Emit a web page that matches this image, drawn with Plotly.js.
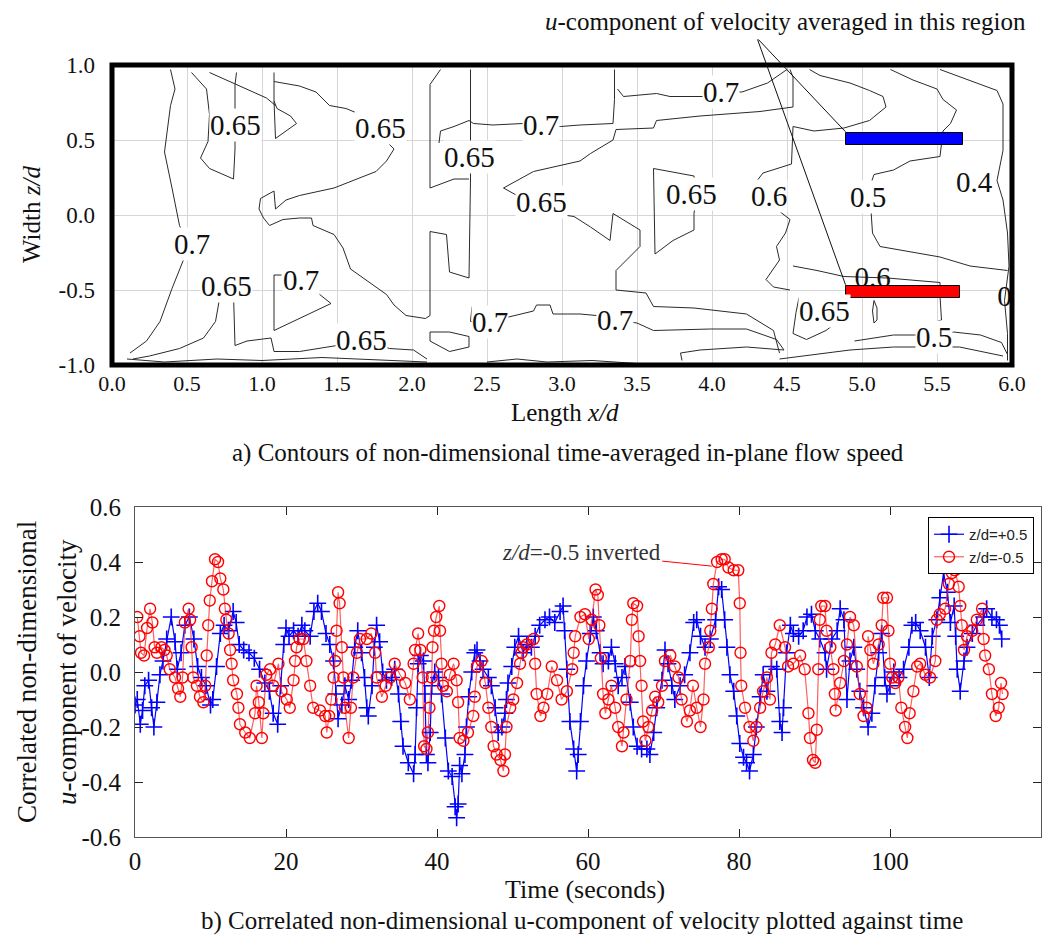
<!DOCTYPE html>
<html><head><meta charset="utf-8">
<script src="https://cdn.plot.ly/plotly-3.0.1.min.js"></script>
<style>body{margin:0;background:#fff}</style>
</head><body><div id="chart" style="width:1053px;height:943px"></div>
<script>
// ---------- (a) contour lines: x/d and z/d coordinates ----------
const contourX = [
 [0.39,0.42,0.39,0.35,0.40,0.45,0.49,0.48,0.40,0.32,0.23,0.12],
 [0.53,0.63,0.65,0.64,0.59,0.65,0.81,0.82,0.82,0.83],
 [0.65,0.85,1.03,1.09],
 [1.08,1.08,1.09,1.16,1.23,1.19,1.10,1.08],
 [1.08,1.25,1.36,1.45,1.56,1.68,1.79,1.83,1.88,1.83,1.76,1.63,1.48,1.25,1.16,1.09,1.08,0.99,0.98,1.01,1.05,1.14,1.25,1.33,1.34,1.48,1.54,1.59,1.70,1.83,1.88,1.96,2.09,2.12,2.12,2.23,2.25,2.38,2.39,2.39],
 [2.19,2.12,2.12,2.28,2.38],
 [2.18,2.19,2.28,2.38,2.41,2.54,2.74,2.86,2.99,3.12,3.34,3.35,3.35],
 [3.37,3.41,3.63,3.72,3.94,4.06,4.20,4.37,4.50],
 [4.52,4.54,4.54,4.32,3.92,3.63,3.61,3.36,3.34,3.19,3.12,2.81,2.61,2.70,2.86,3.01,3.08,3.19,3.32,3.34,3.52,3.52,3.41,3.36,3.36,3.56,3.61,3.88,4.23,4.41,4.45],
 [3.61,3.88,3.90,3.88,3.88,3.74,3.62,3.61],
 [4.65,4.72,4.92,5.05,5.14,5.16,5.05,4.88,4.68,4.54,4.53,4.34,4.27],
 [4.43,4.52,4.49,4.43,4.45,4.36,4.41,4.52],
 [5.19,5.34,5.50,5.54,5.63,5.59,5.54,5.53,5.52,5.32,5.21,5.08,5.05,5.06,5.07,5.12,5.52,5.72,5.97],
 [5.52,5.76,5.90,5.94,5.94,5.90,5.94,5.97,5.98,5.95,5.97,5.97],
 [4.54,4.70,4.88,5.17,5.52,5.52,5.53,5.43],
 [4.58,4.56,4.54,4.63,4.76,4.85],
 [5.08,5.10,5.10,5.08,5.07,5.08],
 [4.95,5.21,5.35,5.48,5.61,5.79,5.93,5.97],
 [4.45,4.92,5.21,5.65,5.94],
 [0.72,0.69,0.61,0.45,0.25,0.14],
 [0.81,0.82,0.90,1.06,1.08,1.25,1.50,1.66,1.85,2.01,2.10],
 [1.13,1.08,1.08,1.46,1.36,1.26],
 [2.40,2.39,2.52,2.68,2.81,2.83,2.92,2.94,3.12,3.23,3.36,3.50,3.61,3.99,4.23,4.43,4.48,4.23,3.92,3.79,3.80],
 [2.12,2.25,2.38,2.38,2.25,2.12,2.12],
 [0.10,0.35,0.70,1.00,1.40,1.80,2.10],
 [2.50,2.70,2.90,3.20,3.50]
];
const contourZ = [
 [0.97,0.84,0.73,0.42,0.18,-0.07,-0.16,-0.29,-0.49,-0.71,-0.84,-0.92],
 [0.95,0.84,0.67,0.49,0.38,0.31,0.24,0.44,0.87,0.95],
 [0.95,0.86,0.78,0.73],
 [0.95,0.76,0.51,0.56,0.61,0.66,0.71,0.76],
 [0.89,0.86,0.82,0.73,0.71,0.66,0.58,0.49,0.44,0.36,0.29,0.24,0.18,0.13,0.10,0.04,0.16,0.11,0.04,-0.02,-0.07,-0.03,-0.02,-0.02,-0.07,-0.13,-0.22,-0.36,-0.44,-0.53,-0.60,-0.67,-0.69,-0.67,-0.11,-0.13,-0.38,-0.42,0.24,0.97],
 [0.97,0.87,0.18,0.24,0.24],
 [0.48,0.56,0.59,0.63,0.61,0.60,0.61,0.60,0.59,0.60,0.61,0.77,0.97],
 [0.84,0.79,0.81,0.79,0.79,0.82,0.82,0.88,0.97],
 [0.97,0.92,0.72,0.69,0.66,0.63,0.58,0.57,0.50,0.41,0.36,0.29,0.18,0.13,0.09,0.00,-0.01,-0.08,-0.17,0.01,-0.10,-0.21,-0.32,-0.37,-0.50,-0.52,-0.61,-0.62,-0.66,-0.77,-0.92],
 [0.31,0.26,0.14,0.01,-0.10,-0.17,-0.26,0.31],
 [0.97,0.93,0.88,0.83,0.79,0.72,0.63,0.58,0.56,0.59,0.34,0.28,0.19],
 [0.04,-0.03,-0.12,-0.21,-0.30,-0.43,-0.48,-0.50],
 [0.97,0.90,0.84,0.77,0.70,0.61,0.56,0.46,0.39,0.36,0.30,0.27,0.18,0.03,-0.12,-0.21,-0.28,-0.34,-0.37],
 [0.97,0.88,0.83,0.74,0.43,0.23,0.10,-0.12,-0.34,-0.57,-0.79,-0.97],
 [-0.34,-0.37,-0.41,-0.42,-0.45,-0.54,-0.70,-0.73],
 [-0.55,-0.65,-0.79,-0.83,-0.77,-0.70],
 [-0.57,-0.62,-0.70,-0.72,-0.64,-0.57],
 [-0.84,-0.80,-0.80,-0.81,-0.78,-0.80,-0.85,-0.93],
 [-0.96,-0.90,-0.88,-0.88,-0.94],
 [-0.54,-0.71,-0.82,-0.89,-0.94,-0.96],
 [-0.53,-0.87,-0.84,-0.82,-0.91,-0.91,-0.87,-0.83,-0.89,-0.90,-0.96],
 [-0.40,-0.40,-0.77,-0.59,-0.51,-0.43],
 [-0.61,-0.71,-0.71,-0.67,-0.64,-0.60,-0.60,-0.66,-0.66,-0.67,-0.70,-0.72,-0.77,-0.76,-0.76,-0.83,-0.90,-0.88,-0.90,-0.92,-0.97],
 [-0.78,-0.78,-0.81,-0.88,-0.91,-0.84,-0.78],
 [-0.96,-0.98,-0.96,-0.97,-0.95,-0.97,-0.98],
 [-0.98,-0.96,-0.98,-0.97,-0.99]
];
const labelText = ['0.65','0.65','0.7','0.65','0.65','0.7','0.65','0.7','0.65','0.7','0.7','0.65','0.6','0.5','0.4','0.65','0.7','0.5'];
const labelX = [0.82,1.79,2.86,2.38,2.86,0.53,0.76,1.26,1.66,2.52,4.06,3.86,4.38,5.04,5.75,4.75,3.35,5.48];
const labelZ = [0.60,0.58,0.60,0.39,0.09,-0.19,-0.47,-0.43,-0.83,-0.71,0.82,0.14,0.13,0.12,0.22,-0.64,-0.70,-0.81];
const hiddenLabelText = ['0.6','0'];
const hiddenLabelX = [5.07,5.95];
const hiddenLabelZ = [-0.43,-0.56];

// averaging regions (x/d extent, z/d position)
const regionNames = ['z/d=+0.5','z/d=-0.5'];
const regionXStart = [4.89,4.89];
const regionXEnd = [5.67,5.65];
const regionZ = [0.51,-0.51];
const regionColors = ['#0000ff','#ff0000'];

// axis ticks
const topXTickVals = [0,0.5,1,1.5,2,2.5,3,3.5,4,4.5,5,5.5,6];
const topXTickText = ['0.0','0.5','1.0','1.5','2.0','2.5','3.0','3.5','4.0','4.5','5.0','5.5','6.0'];
const topYTickVals = [-1,-0.5,0,0.5,1];
const topYTickText = ['-1.0','-0.5','0.0','0.5','1.0'];
const botXTickVals = [0,20,40,60,80,100,120];
const botYTickVals = [-0.6,-0.4,-0.2,0,0.2,0.4,0.6];
const botYTickText = ['-0.6','-0.4','-0.2','0.0','0.2','0.4','0.6'];

// ---------- (b) time series ----------
const blueT = [0.0,0.3,0.7,1.0,1.3,1.8,2.2,2.5,2.9,3.3,3.7,4.2,4.8,5.3,5.6,6.1,6.6,7.2,7.8,8.3,8.8,9.4,10.0,10.3,10.8,11.3,11.8,12.4,13.0,13.4,13.8,14.4,15.1,15.8,16.5,17.2,17.8,18.3,18.9,19.3,19.7,20.0,20.4,21.0,21.6,22.1,22.5,23.2,23.7,24.2,24.7,25.3,25.8,26.3,26.6,26.9,27.4,27.8,28.3,28.7,29.1,29.5,30.0,30.4,30.7,30.9,31.4,31.7,32.0,32.4,32.8,33.3,34.0,34.4,34.9,35.2,35.5,36.2,36.9,37.1,37.3,37.5,37.8,38.2,38.4,38.6,38.8,39.1,39.3,39.7,40.2,40.6,41.1,41.5,42.0,42.4,42.6,42.8,43.0,43.3,43.7,43.9,44.2,44.6,45.0,45.3,45.7,46.1,46.8,47.2,47.7,48.1,48.6,49.0,49.2,49.4,49.9,50.3,50.8,51.4,51.9,52.5,53.0,53.6,54.3,54.9,55.6,56.3,56.7,56.9,57.2,57.6,58.1,58.5,58.7,59.0,59.4,59.8,60.3,60.7,61.1,61.6,62.0,62.7,63.1,63.6,64.0,64.5,64.9,65.6,66.0,66.5,67.1,67.8,68.2,68.7,69.1,69.8,70.2,70.6,71.1,71.5,72.2,72.8,73.5,74.0,74.4,74.9,75.5,76.2,76.9,77.3,77.7,78.1,78.4,78.8,79.3,79.7,80.1,80.6,81.0,81.4,81.9,82.3,82.8,83.2,83.7,84.3,85.0,85.4,85.7,85.9,86.3,86.8,87.2,87.9,88.5,89.0,89.6,90.1,90.7,91.4,91.6,92.3,93.0,93.4,93.9,94.3,94.7,95.2,95.6,96.0,96.5,97.1,97.6,98.0,98.5,98.9,99.3,99.6,100.0,100.5,101.2,101.8,102.5,102.9,103.4,104.0,104.7,105.2,105.6,106.2,106.6,107.1,107.6,108.0,108.5,108.7,108.9,109.3,109.8,110.2,110.9,111.5,112.4,112.8,113.5,114.1,114.5,114.8];
const blueV = [-0.12,-0.10,-0.19,-0.14,-0.05,-0.03,-0.13,-0.20,-0.11,-0.01,0.04,0.12,0.20,0.11,0.01,0.07,0.17,0.20,0.12,0.02,-0.02,-0.05,-0.12,-0.10,0.02,0.14,0.17,0.15,0.22,0.18,0.10,0.08,0.07,0.05,0.01,-0.04,-0.07,-0.15,-0.19,-0.05,0.10,0.16,0.13,0.15,0.13,0.17,0.15,0.13,0.22,0.25,0.22,0.14,0.10,0.04,-0.08,-0.17,-0.12,-0.05,-0.10,-0.03,0.09,0.15,0.07,-0.02,-0.13,-0.16,-0.05,0.09,0.17,0.11,0.00,-0.03,-0.02,0.01,-0.08,-0.18,-0.27,-0.33,-0.37,-0.30,-0.13,0.03,0.06,0.04,-0.08,-0.30,-0.33,-0.22,-0.05,0.00,-0.02,-0.08,-0.24,-0.36,-0.38,-0.49,-0.53,-0.48,-0.34,-0.37,-0.30,-0.20,-0.09,0.00,0.07,0.08,0.04,0.01,-0.02,-0.05,-0.13,-0.22,-0.20,-0.15,-0.10,-0.04,0.02,0.09,0.13,0.07,0.10,0.09,0.13,0.17,0.19,0.20,0.18,0.22,0.24,0.15,0.01,-0.18,-0.28,-0.36,-0.30,-0.18,-0.05,0.04,0.14,0.20,0.15,0.07,0.03,0.04,0.09,0.03,-0.05,-0.02,0.02,-0.11,-0.20,-0.27,-0.28,-0.28,-0.30,-0.22,-0.13,-0.03,0.08,0.03,-0.05,-0.10,-0.05,-0.01,0.07,0.18,0.19,0.13,0.09,0.12,0.19,0.31,0.30,0.19,0.09,-0.01,-0.07,-0.16,-0.26,-0.31,-0.33,-0.36,-0.30,-0.20,-0.09,-0.01,-0.07,0.02,0.01,-0.18,-0.22,-0.13,0.07,0.17,0.14,0.13,0.15,0.20,0.21,0.15,0.12,0.07,0.01,0.12,0.15,0.23,0.19,-0.10,0.04,0.09,0.01,-0.07,-0.13,-0.20,-0.15,-0.05,0.07,0.14,-0.02,-0.08,-0.05,0.00,-0.02,0.01,0.09,0.17,0.18,0.15,0.09,-0.02,0.13,0.19,0.27,0.36,0.29,0.18,0.24,0.13,0.01,-0.07,0.04,0.09,0.14,0.17,0.20,0.23,0.20,0.19,0.17,0.12];
const redT = [0.3,0.6,0.8,1.2,1.6,2.0,2.3,2.6,2.9,3.5,3.9,4.2,4.6,5.3,5.7,6.0,6.3,6.6,7.1,7.3,7.5,7.7,8.2,8.6,9.05,9.3,9.5,9.7,9.9,10.2,10.6,11.0,11.3,11.7,11.9,12.1,12.4,12.6,12.8,13.0,13.5,13.7,13.9,14.6,15.2,15.9,16.1,16.4,16.8,17.0,17.4,17.9,18.3,19.0,19.4,20.1,20.5,21.0,21.2,21.4,21.8,22.3,22.7,23.2,23.6,24.5,25.2,25.4,25.7,26.0,26.3,26.5,26.7,26.9,27.1,27.4,27.6,27.8,28.3,28.6,28.9,29.4,29.8,30.7,31.3,31.8,32.0,32.7,33.2,33.8,34.4,35.1,35.8,36.4,36.9,37.1,37.5,37.8,38.1,38.3,38.6,38.8,39.0,39.3,39.4,39.6,39.9,40.3,40.4,40.6,40.8,41.3,41.7,42.2,42.6,42.8,43.0,43.5,44.1,44.8,45.0,45.3,45.9,46.4,46.8,47.2,47.5,47.9,48.4,48.8,49.0,49.2,49.7,50.1,50.6,51.0,51.2,51.4,51.9,52.8,53.0,53.2,53.7,54.1,54.6,55.2,55.9,56.5,57.2,57.9,58.1,58.3,59.0,59.6,60.1,60.5,61.0,61.3,61.5,61.7,62.0,62.3,62.7,63.1,63.6,64.0,64.5,64.7,65.1,65.6,65.8,66.0,66.5,66.7,66.9,67.1,67.3,67.6,68.0,68.5,68.9,69.3,69.8,70.2,70.9,71.5,72.0,72.4,73.1,73.5,73.9,74.4,74.9,75.3,75.5,76.0,76.2,76.4,76.6,77.1,77.7,78.1,78.6,79.3,79.9,80.1,80.2,80.3,80.8,81.4,81.9,82.3,82.8,83.2,83.7,84.1,84.3,84.8,85.4,86.1,86.5,87.2,88.1,88.7,89.2,89.4,89.8,90.1,90.3,90.5,90.7,90.9,91.4,91.6,92.1,92.5,92.7,92.8,93.4,93.9,94.3,94.7,95.2,95.6,96.0,96.5,96.9,97.1,97.4,97.8,98.5,98.9,99.1,99.6,99.8,100.0,100.3,100.7,101.1,101.5,102.0,102.3,102.6,103.1,103.6,104.0,104.7,105.3,106.0,106.2,106.6,107.3,107.8,108.2,108.6,109.1,109.3,109.5,109.8,110.2,110.9,111.5,112.2,112.4,112.6,113.1,113.5,114.0,114.4,114.7,114.9];
const redV = [0.20,0.13,0.07,0.06,0.16,0.23,0.18,0.09,0.07,0.09,0.08,0.06,0.01,-0.02,-0.06,-0.09,-0.02,0.18,0.23,0.19,0.09,-0.02,-0.05,-0.09,-0.11,-0.05,0.06,0.17,0.26,0.33,0.41,0.40,0.34,0.30,0.23,0.19,0.14,0.08,0.03,-0.03,-0.08,-0.13,-0.19,-0.22,-0.24,-0.15,-0.05,-0.11,-0.24,-0.15,-0.01,0.01,-0.05,0.03,-0.07,-0.10,-0.13,-0.03,0.04,0.09,0.12,0.12,0.04,-0.05,-0.13,-0.14,-0.16,-0.22,-0.16,-0.10,-0.02,0.04,0.15,0.29,0.25,0.09,-0.02,-0.13,-0.24,-0.13,-0.02,0.07,0.12,0.12,0.14,0.07,-0.02,-0.09,-0.05,-0.02,0.03,-0.01,-0.04,-0.10,0.03,0.08,0.14,0.08,-0.02,-0.27,-0.28,-0.22,-0.13,-0.02,0.09,0.15,0.20,0.24,0.15,0.03,-0.05,-0.07,-0.01,0.03,-0.03,-0.11,-0.24,-0.25,-0.22,-0.16,-0.09,0.02,0.04,-0.04,-0.13,-0.20,-0.27,-0.30,-0.32,-0.36,-0.30,-0.20,-0.13,-0.10,-0.04,0.03,0.07,0.09,0.10,0.12,0.03,-0.08,-0.16,-0.13,-0.08,0.02,-0.03,-0.10,-0.07,0.01,0.07,0.13,0.20,0.21,0.12,0.19,0.30,0.28,0.17,0.05,-0.08,-0.15,-0.10,-0.05,-0.13,-0.20,-0.27,-0.22,-0.10,0.04,0.19,0.25,0.24,0.13,0.04,-0.05,-0.18,-0.25,-0.20,-0.14,-0.09,-0.11,-0.05,0.04,0.06,0.02,-0.02,-0.10,-0.18,-0.14,-0.05,-0.13,-0.20,-0.10,0.03,0.09,0.15,0.23,0.32,0.40,0.41,0.41,0.38,0.37,0.37,0.25,0.07,-0.05,-0.13,-0.20,-0.25,-0.20,-0.13,-0.07,-0.02,-0.10,0.07,0.10,0.17,0.09,0.02,0.03,0.06,0.01,-0.15,-0.24,-0.32,-0.33,-0.21,0.01,0.19,0.24,0.24,0.15,0.09,0.01,-0.08,-0.14,-0.04,0.04,0.10,0.20,0.17,0.02,-0.08,-0.16,-0.13,0.13,0.08,0.03,0.10,0.17,0.27,0.27,0.15,0.03,-0.02,-0.04,-0.02,-0.13,-0.20,-0.24,-0.15,-0.07,0.02,0.03,-0.01,-0.02,0.04,0.19,0.21,0.23,0.32,0.36,0.37,0.31,0.24,0.17,0.08,0.13,0.15,0.19,0.23,0.12,0.06,0.01,-0.08,-0.16,-0.13,-0.04,-0.08];

// ---------- page geometry (pixels of the 1053x943 page) ----------
const W = 1053, H = 943;
const px = v => v / W, py = v => 1 - v / H;
const SERIF = 'Liberation Serif, Times New Roman, serif';
const SANS = 'Liberation Sans, Arial, sans-serif';

const traces = [];
for (let i = 0; i < contourX.length; i++) {
  traces.push({x: contourX[i], y: contourZ[i], xaxis:'x', yaxis:'y', type:'scatter', mode:'lines',
    line:{color:'#2a2a2a', width:1}, showlegend:false, hoverinfo:'skip'});
}
traces.push({x: hiddenLabelX, y: hiddenLabelZ, text: hiddenLabelText, xaxis:'x', yaxis:'y', type:'scatter',
  mode:'text', textfont:{family:SERIF, size:29, color:'#111'}, showlegend:false, cliponaxis:true});
for (let i = 0; i < regionNames.length; i++) {
  const x0 = regionXStart[i], x1 = regionXEnd[i], zc = regionZ[i], hz = 0.04;
  traces.push({x:[x0,x1,x1,x0,x0], y:[zc-hz,zc-hz,zc+hz,zc+hz,zc-hz], xaxis:'x', yaxis:'y', type:'scatter',
    mode:'lines', fill:'toself', fillcolor:regionColors[i], line:{color:'#000', width:1}, showlegend:false, hoverinfo:'skip'});
}
traces.push({x: blueT, y: blueV, xaxis:'x2', yaxis:'y2', type:'scatter', mode:'lines+markers', name:'z/d=+0.5',
  line:{color:'#0000ff', width:1.2},
  marker:{symbol:'cross-thin', size:12, color:'#0000ff', line:{color:'#0000ff', width:1.6}}});
traces.push({x: redT, y: redV, xaxis:'x2', yaxis:'y2', type:'scatter', mode:'lines+markers', name:'z/d=-0.5',
  line:{color:'rgba(255,40,40,0.75)', width:1.2},
  marker:{symbol:'circle-open', size:11, color:'#ff0000', line:{color:'#ff0000', width:1.4}}});

const annotations = [];
for (let i = 0; i < labelText.length; i++) {
  annotations.push({xref:'x', yref:'y', x:labelX[i], y:labelZ[i], text:labelText[i], showarrow:false,
    xanchor:'center', yanchor:'middle',
    font:{family:SERIF, size:29, color:'#111'}, bgcolor:'#ffffff', borderpad:0});
}
// pointer lines from the explanatory note to the two averaging regions
for (let i = 0; i < regionNames.length; i++) {
  annotations.push({xref:'x', yref:'y', axref:'x', ayref:'y', x:regionXStart[i], y:regionZ[i]+0.045,
    ax:4.30, ay:1.18, text:'', showarrow:true, arrowhead:0, arrowwidth:1, arrowcolor:'#111', standoff:0});
}
function paperText(x, y, text, size, angle) {
  return {xref:'paper', yref:'paper', x:px(x), y:py(y), xanchor:'center', yanchor:'middle', text:text,
    textangle:angle || 0, showarrow:false, font:{family:SERIF, size:size, color:'#111'}};
}
annotations.push(paperText(785, 22, '<i>u</i>-component of velocity averaged in this region', 25));
annotations.push(paperText(31, 215, 'Width <i>z/d</i>', 25, -90));
annotations.push(paperText(565, 412, 'Length <i>x/d</i>', 25));
annotations.push(paperText(568, 453, 'a) Contours of non-dimensional time-averaged in-plane flow speed', 25));
annotations.push(paperText(27, 672, 'Correlated non-dimensional', 27, -90));
annotations.push(paperText(67, 672, '<i>u</i>-component of velocity', 27, -90));
annotations.push(paperText(585, 889, 'Time (seconds)', 26));
annotations.push(paperText(582, 921, 'b) Correlated non-dimensional u-component of velocity plotted against time', 25));
annotations.push({xref:'x2', yref:'y2', axref:'x2', ayref:'y2', x:76.4, y:0.385, ax:59.1, ay:0.433,
  text:'<i>z/d</i>=-0.5 inverted', showarrow:true, arrowhead:0, arrowwidth:1, arrowcolor:'#ff0000', standoff:0,
  font:{family:SERIF, size:23, color:'#333'}});

const topDomX = [px(112), px(1012)], topDomY = [py(365), py(65)];
const layout = {
  width:W, height:H, margin:{l:0,r:0,t:0,b:0}, paper_bgcolor:'#fff', plot_bgcolor:'#fff',
  showlegend:true,
  xaxis:{domain:topDomX, range:[0,6], anchor:'y', tickvals:topXTickVals, ticktext:topXTickText,
    showgrid:true, gridcolor:'#d6d6d6', gridwidth:1, zeroline:false, ticks:'', showline:false,
    tickfont:{family:SERIF, size:22, color:'#111'}, ticklabelstandoff:3, fixedrange:true},
  yaxis:{domain:topDomY, range:[-1,1], anchor:'x', tickvals:topYTickVals, ticktext:topYTickText,
    showgrid:true, gridcolor:'#d6d6d6', gridwidth:1, zeroline:false, ticks:'', showline:false,
    tickfont:{family:SERIF, size:23, color:'#111'}, ticklabelstandoff:16, fixedrange:true},
  xaxis2:{domain:[px(135), px(1041)], range:[0,120], anchor:'y2', tickvals:botXTickVals,
    showgrid:false, zeroline:false, ticks:'inside', ticklen:8, tickcolor:'#222', mirror:'ticks',
    showline:true, linecolor:'#555', linewidth:1, tickfont:{family:SERIF, size:25, color:'#111'}, ticklabelstandoff:2},
  yaxis2:{domain:[py(837), py(507)], range:[-0.6,0.6], anchor:'x2', tickvals:botYTickVals, ticktext:botYTickText,
    showgrid:false, zeroline:false, ticks:'inside', ticklen:8, tickcolor:'#222', mirror:'ticks',
    showline:true, linecolor:'#555', linewidth:1, tickfont:{family:SERIF, size:25, color:'#111'}, ticklabelstandoff:8},
  legend:{x:px(1034), xanchor:'right', y:py(517), yanchor:'top', bgcolor:'#fff', bordercolor:'#000', borderwidth:1,
    font:{family:SANS, size:15, color:'#222'}, tracegroupgap:0},
  shapes:[{type:'rect', xref:'paper', yref:'paper', x0:topDomX[0], x1:topDomX[1], y0:topDomY[0], y1:topDomY[1],
    line:{color:'#000', width:5}, layer:'above'}],
  annotations: annotations
};
Plotly.newPlot('chart', traces, layout, {displayModeBar:false, staticPlot:true});
</script></body></html>
